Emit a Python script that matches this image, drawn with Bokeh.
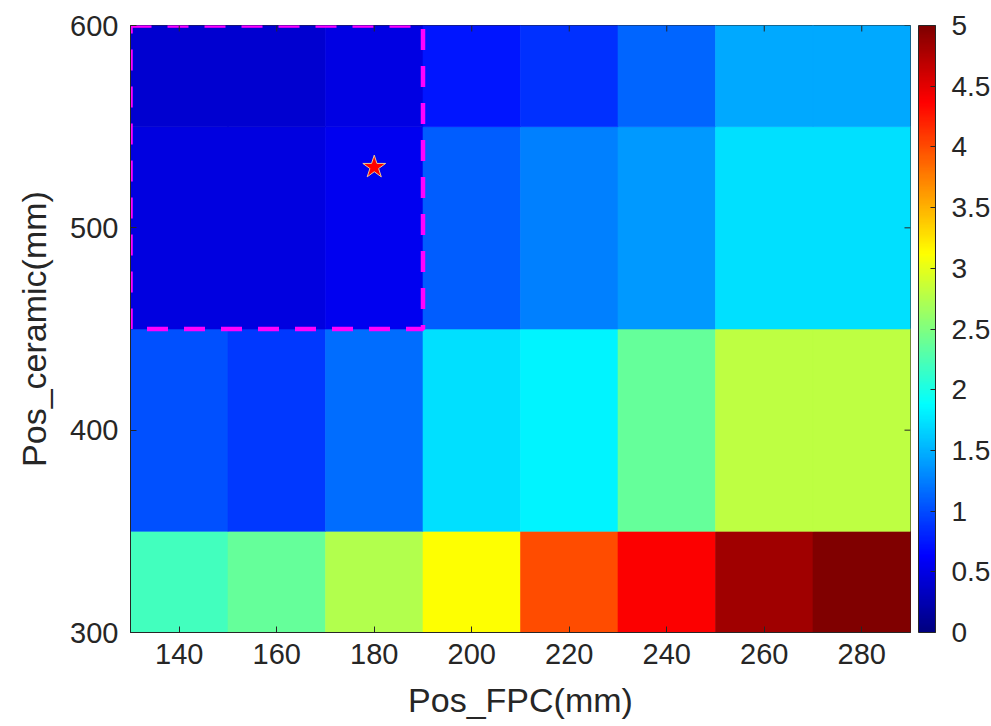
import math
from bokeh.plotting import figure
from bokeh.models import (LinearColorMapper, ColorBar, FixedTicker,
                          ColumnDataSource, Range1d)
from bokeh.transform import transform
from bokeh.embed import file_html
from bokeh.resources import INLINE

# ---- data ----
x_centers = [140, 160, 180, 200, 220, 240, 260, 280]
y_centers = [300, 400, 500, 600]
z_y300 = [2.19, 2.38, 2.74, 3.12, 3.99, 4.38, 4.84, 5.00]
z_y400 = [1.02, 0.90, 1.17, 1.72, 1.82, 2.38, 2.81, 2.81]
z_y500 = [0.47, 0.48, 0.55, 1.09, 1.25, 1.38, 1.72, 1.72]
z_y600 = [0.40, 0.41, 0.50, 0.74, 0.86, 1.13, 1.46, 1.46]
x_ticks = [140, 160, 180, 200, 220, 240, 260, 280]
y_ticks = [300, 400, 500, 600]
cbar_ticks = [0, 0.5, 1, 1.5, 2, 2.5, 3, 3.5, 4, 4.5, 5]
x_lim = [130, 290]
y_lim = [300, 600]
box_x = [130, 190]
box_y = [450, 600]
star_x = [180]
star_y = [530]

rows = [z_y300, z_y400, z_y500, z_y600]
xs, ys, zs = [], [], []
for yi, row in zip(y_centers, rows):
    for xi, zi in zip(x_centers, row):
        xs.append(xi); ys.append(yi); zs.append(zi)
src = ColumnDataSource(dict(x=xs, y=ys, z=zs))

# jet colormap (256 levels)
def jet(t):
    r = min(max(min(4 * t - 1.5, -4 * t + 4.5), 0), 1)
    g = min(max(min(4 * t - 0.5, -4 * t + 3.5), 0), 1)
    b = min(max(min(4 * t + 0.5, -4 * t + 2.5), 0), 1)
    return "#%02x%02x%02x" % (int(round(r * 255)), int(round(g * 255)), int(round(b * 255)))
palette = [jet(i / 255) for i in range(256)]
mapper = LinearColorMapper(palette=palette, low=0, high=5)

FONT = "Liberation Sans"
TXT = "#262626"

p = figure(frame_width=780, frame_height=607, output_backend="svg",
           toolbar_location=None, x_range=Range1d(*x_lim), y_range=Range1d(*y_lim),
           min_border_left=130, min_border_top=25, min_border_bottom=94, min_border_right=5)
p.background_fill_color = "white"
p.border_fill_color = "white"
p.outline_line_color = TXT
p.outline_line_width = 1
p.xgrid.visible = False
p.ygrid.visible = False

p.rect(x="x", y="y", width=20, height=100, source=src,
       fill_color=transform("z", mapper), line_color=transform("z", mapper), line_width=0.6)

p.quad(left=[box_x[0]], right=[box_x[1]], bottom=[box_y[0]], top=[box_y[1]],
       fill_color=None, line_color="#ff00ff", line_width=4.5, line_dash="21 16")

p.scatter(star_x, star_y, marker="star", size=24, fill_color="#ff0000",
          line_color="#f0c890", line_width=1)

# box-style inward ticks on top and right edges
p.ray(x=x_ticks, y=[y_lim[1]] * len(x_ticks), length=6, length_units="screen",
      angle=-math.pi / 2, line_color=TXT, line_width=1)
p.ray(x=[x_lim[1]] * len(y_ticks), y=y_ticks, length=6, length_units="screen",
      angle=math.pi, line_color=TXT, line_width=1)

for ax, ticks in ((p.xaxis[0], x_ticks), (p.yaxis[0], y_ticks)):
    ax.ticker = FixedTicker(ticks=ticks)
    ax.major_tick_in = 6
    ax.major_tick_out = 0
    ax.minor_tick_line_color = None
    ax.axis_line_color = TXT
    ax.major_tick_line_color = TXT
    ax.major_label_text_font = FONT
    ax.major_label_text_font_size = "29px"
    ax.major_label_text_color = TXT
    ax.axis_label_text_font = FONT
    ax.axis_label_text_font_size = "34px"
    ax.axis_label_text_font_style = "normal"
    ax.axis_label_text_color = TXT

p.xaxis.axis_label = "Pos_FPC(mm)"
p.yaxis.axis_label = "Pos_ceramic(mm)"
p.xaxis.major_label_standoff = 11
p.yaxis.major_label_standoff = 12
p.xaxis.axis_label_standoff = 14
p.yaxis.axis_label_standoff = 14

cbar = ColorBar(color_mapper=mapper, ticker=FixedTicker(ticks=cbar_ticks),
                width=17, height=607, padding=0, margin=0,
                major_tick_in=5, major_tick_out=0, major_tick_line_color=TXT,
                minor_tick_line_color=None, bar_line_color=TXT, border_line_color=None,
                major_label_text_font=FONT, major_label_text_font_size="28px",
                major_label_text_color=TXT, label_standoff=16, location=(8, 0))
p.add_layout(cbar, "right")

open("out.html", "w").write(file_html(p, INLINE))
